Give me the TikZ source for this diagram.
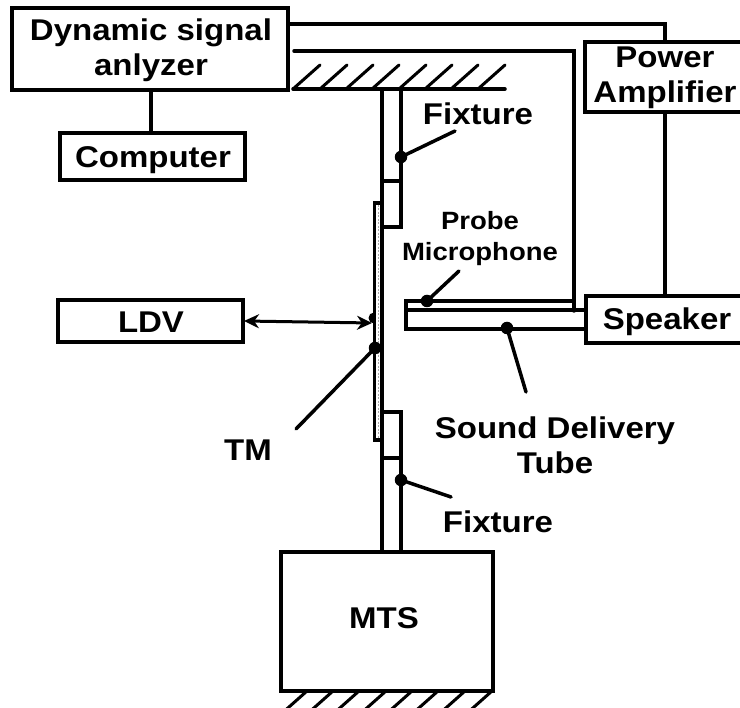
\documentclass[tikz,border=0pt]{standalone}
\usepackage{fontspec}
\usetikzlibrary{arrows.meta}
\setmainfont{Liberation Sans}
\newfontfamily\labfont[FakeStretch=1.1,BoldFont={Liberation Sans Bold}]{Liberation Sans}
\tikzset{
  px/.style={x=1pt,y=-1pt},
  ln/.style={line width=3.5pt,line join=miter,line cap=round},
  boxn/.style={draw,line width=3.6pt,inner sep=0pt,outer sep=0pt,anchor=north west},
  lab/.style={font=\fontsize{30}{35}\labfont\bfseries,align=center,inner sep=0pt},
  slab/.style={font=\fontsize{25}{31}\labfont\bfseries,align=center,inner sep=0pt},
  dotn/.style={circle,fill=black,inner sep=0pt,minimum size=12.5pt},
  hatch/.style={line width=3pt,line cap=round}
}
\begin{document}
\begin{tikzpicture}[px]
\useasboundingbox (0,0) rectangle (740,708);
\begin{scope}
\clip (0,0) rectangle (740,708);
% boxes
\node[boxn,minimum width=276pt,minimum height=82pt] (dsa) at (12,8) {};
\node[lab] (dsat) at (151,50) {Dynamic signal\\anlyzer};
\node[boxn,minimum width=185pt,minimum height=47pt] (comp) at (60,133) {};
\node[lab] (compt) at (153,160) {Computer};
\node[boxn,minimum width=185pt,minimum height=42pt] (ldv) at (58,300) {};
\node[lab] (ldvt) at (151,322) {LDV};
\node[boxn,minimum width=170pt,minimum height=70pt] (pa) at (585,42) {};
\node[lab] (pat) at (665,78) {Power\\Amplifier};
\node[boxn,minimum width=170pt,minimum height=47pt] (spk) at (586,296) {};
\node[lab] (spkt) at (667,322) {Speaker};
\node[boxn,minimum width=212pt,minimum height=139pt] (mts) at (281,552) {};
\node[lab] (mtst) at (384,618) {MTS};
% wires
\coordinate (a1) at (288,24); \coordinate (a2) at (665,24); \coordinate (a3) at (665,42);
\draw[ln] (a1)--(a2)--(a3);
\coordinate (b1) at (294,51); \coordinate (b2) at (574,51); \coordinate (b3) at (574,311);
\draw[ln] (b1)--(b2)--(b3);
\draw[ln] (151,90)--(151,133);
\draw[ln] (665,112)--(665,296);
% ceiling
\draw[ln] (293,89)--(505,89);
\foreach \x in {293,320,346,372,399,425,451,478}
  \draw[hatch] (\x,89)--++(27,-24);
% floor
\foreach \x in {307,333,359,386,412,438,465,492}
  \draw[hatch] (\x,691)--++(-27,24);
% fixtures
\draw[ln] (382,89)--(382,552);
\draw[ln] (401,89)--(401,227)--(382,227);
\draw[ln] (382,181)--(401,181);
\draw[ln] (382,412)--(401,412)--(401,552);
\draw[ln] (382,458)--(401,458);
% membrane
\draw[ln] (382,203)--(374.5,203)--(374.5,440)--(382,440);
\draw[line width=1.8pt,gray!70,dash pattern=on 2pt off 1.5pt] (378.5,205)--(378.5,438);
\fill (374,323.5) arc[start angle=90,end angle=270,radius=5.5] -- cycle;
% tubes
\draw[ln] (586,310)--(406,310)--(406,329)--(586,329);
\draw[ln] (574,301)--(406,301)--(406,310);
% LDV arrow
\draw[line width=3pt,{Stealth[length=15pt,width=14pt]}-{Stealth[length=15pt,width=14pt]}] (244,321)--(372,323);
% leaders and dots
\node[dotn] (d1) at (401,157) {};
\coordinate (e1) at (455,131);
\draw[ln] (d1.center)--(e1);
\node[dotn] (d2) at (401,480) {};
\coordinate (e2) at (451,497);
\draw[ln] (d2.center)--(e2);
\node[dotn] (d3) at (375,348) {};
\coordinate (e3) at (296,429);
\draw[ln] (d3.center)--(e3);
\node[dotn] (d4) at (427,301) {};
\coordinate (e4) at (459,271);
\draw[ln] (d4.center)--(e4);
\node[dotn] (d5) at (507,328) {};
\coordinate (e5) at (526,392);
\draw[ln] (d5.center)--(e5);
% labels
\node[lab] (f1) at (478,114) {Fixture};
\node[lab] (f2) at (498,522) {Fixture};
\node[lab] (tm) at (248,450) {TM};
\node[lab] (sd) at (555,445) {Sound Delivery\\Tube};
\node[slab] (pm) at (480,239) {Probe\\Microphone};
\end{scope}
\end{tikzpicture}
\end{document}
